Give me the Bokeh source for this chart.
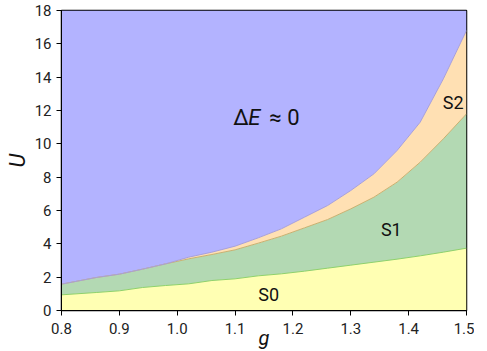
from bokeh.plotting import figure
from bokeh.models import ColumnDataSource, Range1d, FixedTicker, NumeralTickFormatter, Label
from bokeh.embed import file_html
from bokeh.resources import INLINE

g = [0.80, 0.86, 0.90, 0.94, 0.98, 1.02, 1.06, 1.10, 1.14, 1.18, 1.22, 1.26, 1.30, 1.34, 1.38, 1.42, 1.46, 1.50]
s0_top = [0.94, 1.08, 1.18, 1.38, 1.50, 1.60, 1.80, 1.90, 2.08, 2.20, 2.36, 2.54, 2.72, 2.90, 3.08, 3.28, 3.50, 3.74]
s1_top = [1.58, 1.98, 2.18, 2.48, 2.80, 3.10, 3.36, 3.64, 4.04, 4.46, 4.96, 5.46, 6.10, 6.80, 7.70, 8.90, 10.30, 11.80]
s2_top = [1.58, 1.98, 2.18, 2.48, 2.80, 3.20, 3.50, 3.86, 4.36, 4.90, 5.60, 6.30, 7.20, 8.20, 9.60, 11.30, 13.90, 16.80]
u_max = [18.0] * len(g)
u_min = [0.0] * len(g)

labels = ["S2", "S1", "S0"]
label_g = [1.477, 1.37, 1.158]
label_u = [12.5, 4.85, 0.95]

src = ColumnDataSource(dict(g=g, s0=s0_top, s1=s1_top, s2=s2_top, top=u_max, bot=u_min))

p = figure(frame_width=405, frame_height=300, output_backend="svg", toolbar_location=None,
           x_range=Range1d(0.8, 1.5), y_range=Range1d(0, 18),
           min_border_left=61, min_border_right=8, min_border_top=10, min_border_bottom=0)

p.varea(x="g", y1="bot", y2="s0", source=src, fill_color="#ffffb3")
p.varea(x="g", y1="s0", y2="s1", source=src, fill_color="#b3d9b3")
p.varea(x="g", y1="s1", y2="s2", source=src, fill_color="#ffe0b3")
p.varea(x="g", y1="s2", y2="top", source=src, fill_color="#b3b3ff")
p.line(x="g", y="s0", source=src, line_color="#8fd16a", line_width=1)
p.line(x="g", y="s1", source=src, line_color="#c8b070", line_width=1)
p.line(x="g", y="s2", source=src, line_color="#a8a0d8", line_width=1)

for t, xg, yu in zip(labels, label_g, label_u):
    p.add_layout(Label(x=xg, y=yu, text=t, text_align="center", text_baseline="middle",
                       text_font="Roboto", text_font_size="18px", text_color="#111111"))

# "ΔE ≈ 0" with italic E
de_g, de_u = 1.097, 11.6
parts = [("Δ", 0, "normal"), ("E", 15, "italic"), ("≈ 0", 36, "normal")]
for t, off, st in parts:
    p.add_layout(Label(x=de_g, y=de_u, x_offset=off, text=t, text_align="left", text_baseline="middle",
                       text_font="Roboto", text_font_size="22px", text_font_style=st,
                       text_color="#111111"))

p.grid.visible = False
p.outline_line_color = "black"
p.outline_line_width = 1.5

p.xaxis.ticker = FixedTicker(ticks=[0.8, 0.9, 1.0, 1.1, 1.2, 1.3, 1.4, 1.5])
p.xaxis.formatter = NumeralTickFormatter(format="0.0")
p.yaxis.ticker = FixedTicker(ticks=list(range(0, 19, 2)))
for ax in (p.xaxis, p.yaxis):
    ax.major_label_text_font = "Roboto"
    ax.major_label_text_font_size = "15px"
    ax.major_label_text_color = "#222222"
    ax.minor_tick_line_color = None
    ax.major_tick_in = 0
    ax.major_tick_out = 5
    ax.major_tick_line_color = "black"
    ax.axis_line_color = "black"
    ax.axis_label_text_font = "Roboto"
    ax.axis_label_text_font_size = "22px"
    ax.axis_label_text_font_style = "italic"
    ax.axis_label_text_color = "#111111"
p.xaxis.axis_label_text_font_size = "20px"
p.xaxis.axis_label = "g"
p.yaxis.axis_label = "U"
p.xaxis.major_label_standoff = 7
p.xaxis.axis_label_standoff = -11
p.yaxis.axis_label_standoff = 2

open("out.html", "w").write(file_html(p, INLINE))
